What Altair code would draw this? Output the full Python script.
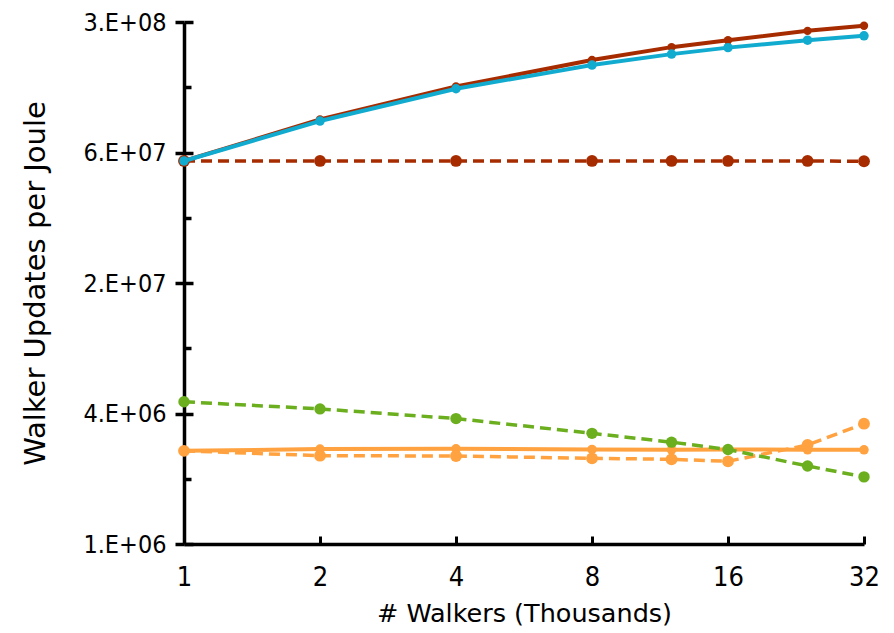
import altair as alt
import pandas as pd

# ---- data ----
walkers = [1, 2, 4, 8, 12, 16, 24, 32]

red_solid = [5.85e7, 9.09e7, 1.29e8, 1.71e8, 1.96e8, 2.11e8, 2.33e8, 2.46e8]
cyan_solid = [5.85e7, 8.94e7, 1.26e8, 1.62e8, 1.82e8, 1.95e8, 2.11e8, 2.21e8]
red_dashed = [5.85e7, 5.85e7, 5.85e7, 5.85e7, 5.85e7, 5.85e7, 5.85e7, 5.83e7]
orange_solid = [2.69e6, 2.74e6, 2.75e6, 2.73e6, 2.72e6, 2.73e6, 2.72e6, 2.72e6]
orange_dashed = [2.69e6, 2.555e6, 2.547e6, 2.485e6, 2.459e6, 2.407e6, 2.862e6, 3.589e6]
green_dashed = [4.53e6, 4.20e6, 3.79e6, 3.24e6, 2.95e6, 2.73e6, 2.29e6, 2.04e6]

x_tick_values = [1, 2, 4, 8, 16, 32]
x_inner_ticks = [2, 4, 8, 16, 32]
y_major_values = [1e6, 4e6, 1.6e7, 6.4e7, 2.56e8]
y_major_labels = ["1.E+06", "4.E+06", "2.E+07", "6.E+07", "3.E+08"]
y_minor_values = [2e6, 8e6, 3.2e7, 1.28e8]

# series: name, values, colour, dashed, point size  (drawn in this order)
series = [
    ("red_dashed", red_dashed, "#A62C00", True, 140),
    ("red_solid", red_solid, "#A62C00", False, 70),
    ("cyan_solid", cyan_solid, "#12ABD0", False, 90),
    ("orange_solid", orange_solid, "#FFA23F", False, 90),
    ("orange_dashed", orange_dashed, "#FFA23F", True, 140),
    ("green_dashed", green_dashed, "#6BAF1F", True, 130),
]

rows = []
for name, vals, _, _, _ in series:
    for w, v in zip(walkers, vals):
        rows.append({"series": name, "walkers": w, "value": v})
df = pd.DataFrame(rows)

W, H = 680, 522
TICK_FONT = "DejaVu Sans Condensed"
TITLE_FONT = "DejaVu Sans"

xscale = alt.Scale(type="log", base=2, domain=[1, 32], nice=False)
yscale = alt.Scale(type="log", base=4, domain=[1e6, 2.56e8], nice=False)

label_expr = ""
for v, lab in zip(y_major_values, y_major_labels):
    label_expr += f"abs(datum.value - {v}) < {v * 1e-6} ? '{lab}' : "
label_expr += "''"

major_test = "indexof([" + ",".join(str(int(v)) for v in y_major_values) + "], datum.value) >= 0"

main_axes = alt.Chart(df).mark_point(opacity=0).encode(
    x=alt.X(
        "walkers:Q",
        scale=xscale,
        axis=alt.Axis(
            values=x_tick_values,
            format="d",
            title="# Walkers (Thousands)",
            ticks=False,
            tickSize=0,
            grid=False,
            domainColor="black",
            domainWidth=3.5,
            labelFont=TICK_FONT,
            labelFontSize=27,
            labelColor="black",
            labelPadding=20,
            labelFlush=False,
            titleFont=TITLE_FONT,
            titleFontSize=25.5,
            titleFontWeight="normal",
            titleColor="black",
            titlePadding=11,
        ),
    ),
    y=alt.Y(
        "value:Q",
        scale=yscale,
        axis=alt.Axis(
            values=y_major_values,
            labelExpr=label_expr,
            title="Walker Updates per Joule",
            grid=False,
            tickSize=9,
            tickWidth=3.5,
            tickColor="black",
            domainColor="black",
            domainWidth=3.5,
            labelFont=TICK_FONT,
            labelFontSize=25,
            labelColor="black",
            labelPadding=9,
            labelFlush=False,
            titleFont=TITLE_FONT,
            titleFontSize=29,
            titleFontWeight="normal",
            titleColor="black",
            titlePadding=32,
        ),
    ),
)

inner_axes = alt.Chart(df).mark_point(opacity=0).encode(
    x=alt.X(
        "walkers:Q",
        scale=xscale,
        title=None,
        axis=alt.Axis(
            orient="top",
            offset=-H,
            values=x_inner_ticks,
            labels=False,
            domain=False,
            grid=False,
            tickSize=8,
            tickWidth=3,
            tickColor="black",
        ),
    ),
    y=alt.Y(
        "value:Q",
        scale=yscale,
        title=None,
        axis=alt.Axis(
            orient="right",
            offset=-W,
            values=y_major_values + y_minor_values,
            labels=False,
            domain=False,
            grid=False,
            tickSize={"condition": {"test": major_test, "value": 9}, "value": 7},
            tickWidth=3.5,
            tickColor="black",
        ),
    ),
)

layers = [main_axes, inner_axes]
for name, vals, color, dashed, psize in series:
    base = alt.Chart(df).transform_filter(alt.datum.series == name).encode(
        x=alt.X("walkers:Q", scale=xscale, axis=None),
        y=alt.Y("value:Q", scale=yscale, axis=None),
    )
    if dashed:
        line = base.mark_line(color=color, strokeWidth=3.5, strokeDash=[11, 6])
    else:
        line = base.mark_line(color=color, strokeWidth=4)
    pts = base.mark_circle(color=color, size=psize, opacity=1)
    layers += [line, pts]

chart = (
    alt.layer(*layers)
    .resolve_axis(x="independent", y="independent")
    .properties(
        width=W,
        height=H,
        autosize=alt.AutoSizeParams(type="none"),
        padding={"left": 184, "top": 22, "right": 30, "bottom": 89},
        background="white",
    )
    .configure_view(strokeWidth=0)
)

chart.save("out.html", embed_options={"renderer": "svg", "actions": False})
